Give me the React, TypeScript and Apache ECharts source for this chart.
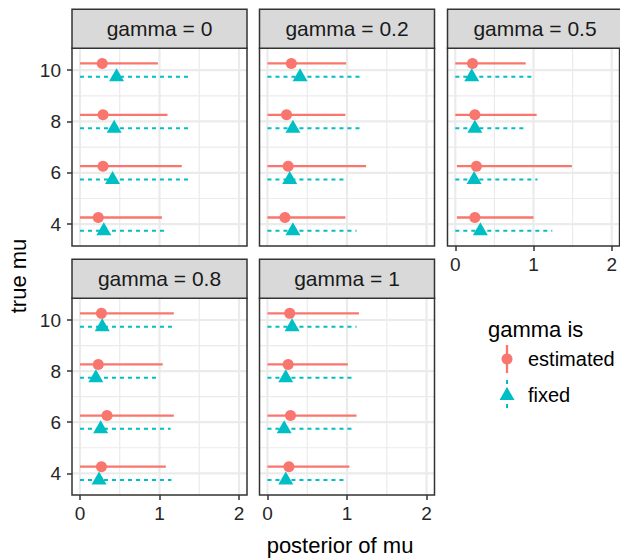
import React, { useEffect, useRef } from "react";
import * as echarts from "echarts";

// ---- data ----
const gammas = [0, 0.2, 0.5, 0.8, 1];
const trueMu = [4, 6, 8, 10];

// estimated gamma: posterior of mu (lower, point, upper), per facet, mu order 4,6,8,10
const estLo = [
  [0, 0, 0, 0],
  [0, 0, 0, 0],
  [0.02, 0.02, 0, 0],
  [0, 0, 0, 0],
  [0, 0, 0, 0],
];
const estMid = [
  [0.23, 0.29, 0.29, 0.28],
  [0.22, 0.26, 0.24, 0.3],
  [0.25, 0.27, 0.25, 0.22],
  [0.27, 0.34, 0.23, 0.27],
  [0.27, 0.29, 0.26, 0.28],
];
const estHi = [
  [1.03, 1.28, 1.1, 0.98],
  [0.98, 1.24, 0.98, 0.99],
  [1.0, 1.49, 1.04, 0.9],
  [1.08, 1.18, 1.04, 1.18],
  [1.03, 1.12, 1.01, 1.15],
];
// fixed gamma
const fixLo = [
  [0, 0, 0, 0],
  [0, 0, 0, 0],
  [0, 0, 0, 0],
  [0, 0, 0, 0],
  [0, 0, 0, 0],
];
const fixMid = [
  [0.3, 0.41, 0.43, 0.46],
  [0.32, 0.28, 0.32, 0.41],
  [0.32, 0.24, 0.25, 0.21],
  [0.24, 0.26, 0.2, 0.28],
  [0.23, 0.21, 0.23, 0.31],
];
const fixHi = [
  [1.06, 1.39, 1.4, 1.39],
  [1.12, 0.96, 1.17, 1.17],
  [1.24, 1.05, 0.89, 1.0],
  [1.15, 1.14, 0.96, 1.18],
  [0.96, 1.06, 1.06, 1.12],
];

const xTicks = [0, 1, 2];
const xMinor = [0.5, 1.5];
const yTicks = [4, 6, 8, 10];
const yMinor = [5, 7, 9];
const seriesNames = ["estimated", "fixed"];

// ---- styles / layout ----
const FONT = '"Liberation Sans", Arial, Helvetica, sans-serif';
const RED = "#F8766D";
const CYAN = "#00BFC4";
const AXIS_TEXT = "#262626";
const X_MIN = -0.1, X_MAX = 2.1;
const Y_MIN = 3.15, Y_MAX = 10.85;
const DODGE = 0.26;

const panels = [
  { left: 72, top: 48.3, width: 175, height: 197.7, xLab: false, yLab: true },
  { left: 259.5, top: 48.3, width: 175, height: 197.7, xLab: false, yLab: false },
  { left: 447.5, top: 48.3, width: 175, height: 197.7, xLab: true, yLab: false },
  { left: 72, top: 298.3, width: 175, height: 196.7, xLab: true, yLab: true },
  { left: 259.5, top: 298.3, width: 175, height: 196.7, xLab: true, yLab: false },
];
const STRIP_H = 39;

function buildOption() {
  const grid: any[] = [];
  const xAxis: any[] = [];
  const yAxis: any[] = [];
  const series: any[] = [];
  const graphic: any[] = [];

  panels.forEach((p, i) => {
    grid.push({
      left: p.left,
      top: p.top,
      width: p.width,
      height: p.height,
      show: true,
      backgroundColor: "#FFFFFF",
      borderWidth: 0,
    });
    xAxis.push({
      gridIndex: i,
      type: "value",
      min: X_MIN,
      max: X_MAX,
      splitLine: { show: false },
      axisLine: { show: false, onZero: false },
      axisTick: {
        show: p.xLab,
        customValues: xTicks,
        length: 5,
        lineStyle: { color: "#333333", width: 1.5 },
      },
      axisLabel: {
        show: p.xLab,
        customValues: xTicks,
        fontSize: 19,
        fontFamily: FONT,
        color: AXIS_TEXT,
        margin: 9,
      },
    });
    yAxis.push({
      gridIndex: i,
      type: "value",
      min: Y_MIN,
      max: Y_MAX,
      splitLine: { show: false },
      axisLine: { show: false, onZero: false },
      axisTick: {
        show: p.yLab,
        customValues: yTicks,
        length: 5,
        lineStyle: { color: "#333333", width: 1.5 },
      },
      axisLabel: {
        show: p.yLab,
        customValues: yTicks,
        fontSize: 19,
        fontFamily: FONT,
        color: AXIS_TEXT,
        margin: 11,
      },
    });

    // gridlines + panel border
    series.push({
      type: "custom",
      xAxisIndex: i,
      yAxisIndex: i,
      silent: true,
      z: 1,
      data: [[0, 4]],
      renderItem: (params: any, api: any) => {
        const cs = params.coordSys;
        const children: any[] = [];
        const vline = (v: number, w: number) => {
          const pt = api.coord([v, yTicks[0]]);
          children.push({
            type: "line",
            shape: { x1: pt[0], y1: cs.y, x2: pt[0], y2: cs.y + cs.height },
            style: { stroke: "#EBEBEB", lineWidth: w },
          });
        };
        const hline = (v: number, w: number) => {
          const pt = api.coord([xTicks[0], v]);
          children.push({
            type: "line",
            shape: { x1: cs.x, y1: pt[1], x2: cs.x + cs.width, y2: pt[1] },
            style: { stroke: "#EBEBEB", lineWidth: w },
          });
        };
        xMinor.forEach((v) => vline(v, 1.2));
        yMinor.forEach((v) => hline(v, 1.2));
        xTicks.forEach((v) => vline(v, 2.2));
        yTicks.forEach((v) => hline(v, 2.2));
        children.push({
          type: "rect",
          shape: { x: cs.x, y: cs.y, width: cs.width, height: cs.height },
          style: { fill: "none", stroke: "#333333", lineWidth: 1.5 },
        });
        return { type: "group", children };
      },
    });

    const groups = [
      { name: seriesNames[0], lo: estLo[i], mid: estMid[i], hi: estHi[i], off: DODGE, color: RED, dash: null as any, symbol: "circle", size: 11, offset: [0, 0] },
      { name: seriesNames[1], lo: fixLo[i], mid: fixMid[i], hi: fixHi[i], off: -DODGE, color: CYAN, dash: [4, 4], symbol: "triangle", size: [15, 13], offset: [0, -2] },
    ];
    groups.forEach((g) => {
      series.push({
        type: "custom",
        name: g.name,
        xAxisIndex: i,
        yAxisIndex: i,
        silent: true,
        z: 2,
        encode: { x: [0, 1], y: 2 },
        data: trueMu.map((m, k) => [g.lo[k], g.hi[k], m + g.off]),
        renderItem: (params: any, api: any) => {
          const y = api.value(2);
          const a = api.coord([api.value(0), y]);
          const b = api.coord([api.value(1), y]);
          return {
            type: "line",
            shape: { x1: a[0], y1: a[1], x2: b[0], y2: b[1] },
            style: {
              stroke: g.color,
              lineWidth: g.dash ? 2 : 2.3,
              lineDash: g.dash || undefined,
            },
          };
        },
      });
      series.push({
        type: "scatter",
        name: g.name,
        xAxisIndex: i,
        yAxisIndex: i,
        silent: true,
        z: 3,
        symbol: g.symbol,
        symbolSize: g.size,
        symbolOffset: g.offset,
        itemStyle: { color: g.color, opacity: 1 },
        data: trueMu.map((m, k) => [g.mid[k], m + g.off]),
      });
    });

    // strip
    graphic.push({
      type: "rect",
      shape: { x: p.left, y: p.top - STRIP_H, width: p.width, height: STRIP_H },
      style: { fill: "#D9D9D9", stroke: "#333333", lineWidth: 1.5 },
      z: 5,
    });
    graphic.push({
      type: "text",
      x: p.left + p.width / 2,
      y: p.top - STRIP_H / 2,
      z: 6,
      style: {
        text: "gamma = " + gammas[i],
        fill: "#1A1A1A",
        font: "21px " + FONT,
        align: "center",
        verticalAlign: "middle",
        textAlign: "center",
        textVerticalAlign: "middle",
      },
    });
  });

  // axis titles
  graphic.push({
    type: "text",
    x: 340,
    y: 545,
    style: {
      text: "posterior of mu",
      fill: "#000000",
      font: "22px " + FONT,
      align: "center",
      verticalAlign: "middle",
      textAlign: "center",
      textVerticalAlign: "middle",
    },
  });
  graphic.push({
    type: "text",
    x: 18,
    y: 276,
    rotation: Math.PI / 2,
    style: {
      text: "true mu",
      fill: "#000000",
      font: "22px " + FONT,
      align: "center",
      verticalAlign: "middle",
      textAlign: "center",
      textVerticalAlign: "middle",
    },
  });

  // legend
  const LX = 507;
  graphic.push({
    type: "text",
    x: 488,
    y: 329,
    style: {
      text: "gamma is",
      fill: "#000000",
      font: "22px " + FONT,
      align: "left",
      verticalAlign: "middle",
      textAlign: "left",
      textVerticalAlign: "middle",
    },
  });
  graphic.push({
    type: "line",
    shape: { x1: LX, y1: 345, x2: LX, y2: 373 },
    style: { stroke: RED, lineWidth: 2.3 },
  });
  graphic.push({
    type: "circle",
    shape: { cx: LX, cy: 359, r: 5.5 },
    style: { fill: RED },
  });
  graphic.push({
    type: "line",
    shape: { x1: LX, y1: 380, x2: LX, y2: 409 },
    style: { stroke: CYAN, lineWidth: 2, lineDash: [4, 4] },
  });
  graphic.push({
    type: "polygon",
    shape: { points: [[LX - 7.5, 400], [LX + 7.5, 400], [LX, 387]] },
    style: { fill: CYAN },
  });
  [seriesNames[0], seriesNames[1]].forEach((t, k) => {
    graphic.push({
      type: "text",
      x: 528,
      y: k === 0 ? 359 : 395,
      style: {
        text: t,
        fill: "#000000",
        font: "20px " + FONT,
        align: "left",
        verticalAlign: "middle",
        textAlign: "left",
        textVerticalAlign: "middle",
      },
    });
  });

  return {
    animation: false,
    backgroundColor: "#FFFFFF",
    textStyle: { fontFamily: FONT },
    grid,
    xAxis,
    yAxis,
    series,
    graphic,
  };
}

export default function App() {
  const ref = useRef<HTMLDivElement>(null);
  useEffect(() => {
    if (!ref.current) return;
    const chart = echarts.init(ref.current, undefined, { renderer: "svg" });
    chart.setOption(buildOption() as any);
    return () => chart.dispose();
  }, []);
  return (
    <div
      ref={ref}
      style={{ position: "absolute", left: 0, top: 0, width: 620, height: 559 }}
    />
  );
}
